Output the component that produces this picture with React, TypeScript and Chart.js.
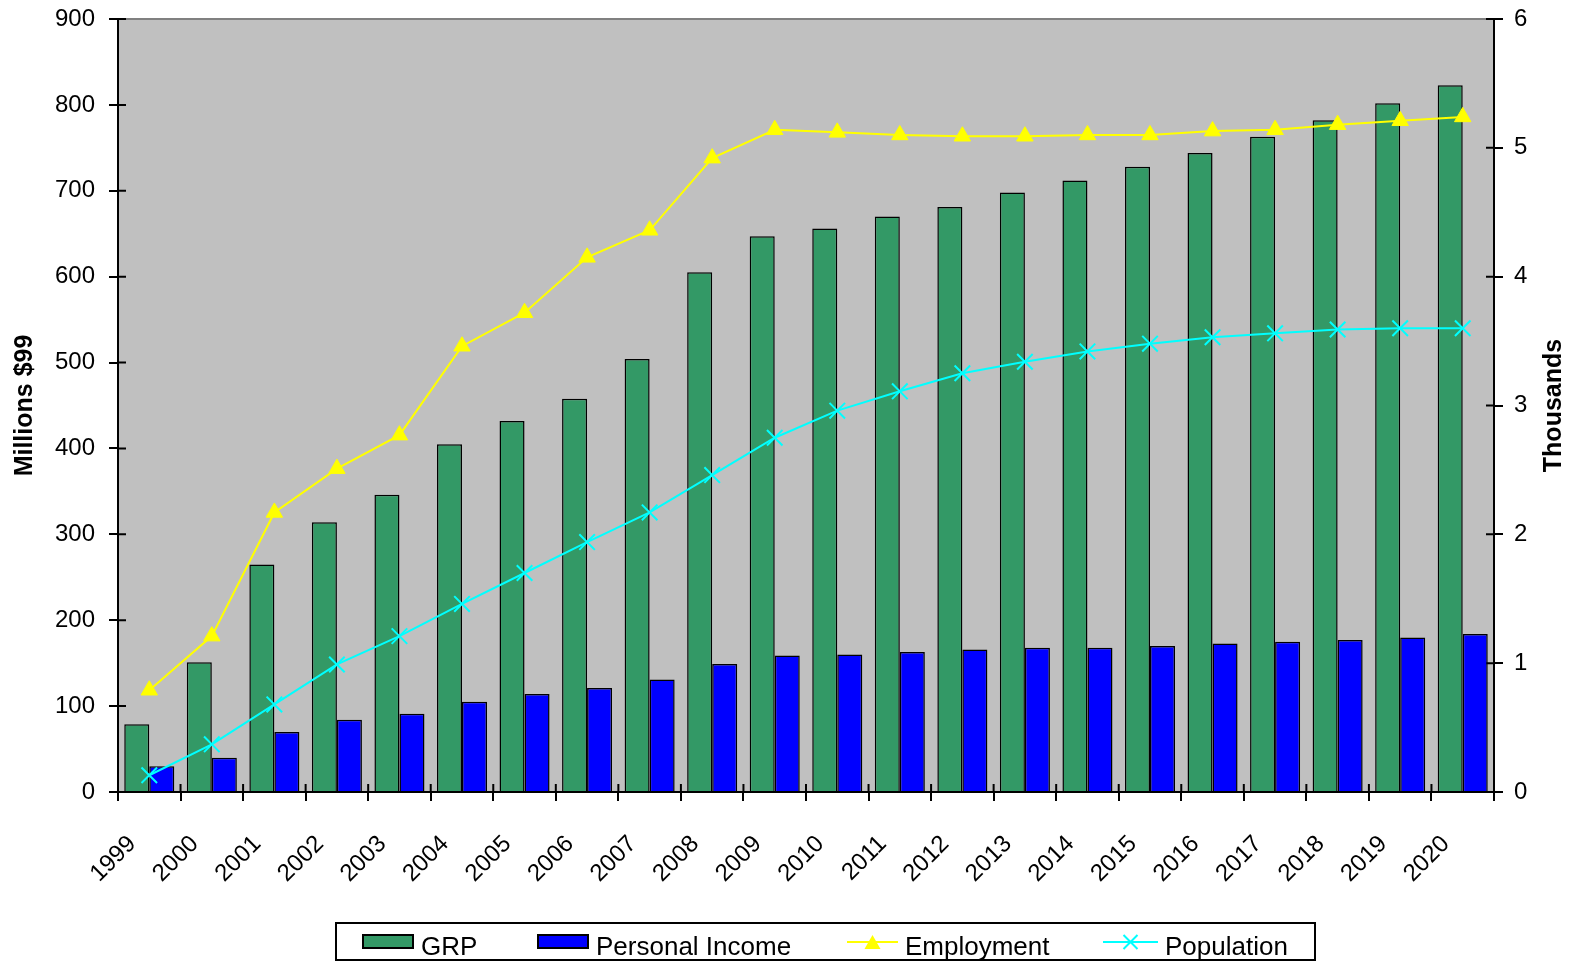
import React, { useEffect, useRef } from "react";
import { Chart, registerables } from "chart.js";

Chart.register(...registerables);

const years = ["1999","2000","2001","2002","2003","2004","2005","2006","2007","2008","2009","2010","2011","2012","2013","2014","2015","2016","2017","2018","2019","2020"];
const grp = [79,151,265,314,346,405,432,458,504,605,647,656,670,681,698,712,728,744,763,782,802,823];
const personalIncome = [30,40,70,84,91,105,114,121,131,149,159,160,163,166,168,168,170,173,175,177,180,184];
const employment = [0.79,1.21,2.17,2.51,2.77,3.46,3.72,4.15,4.36,4.92,5.14,5.12,5.10,5.09,5.09,5.10,5.10,5.13,5.14,5.18,5.21,5.24];
const population = [0.13,0.37,0.68,0.99,1.21,1.46,1.70,1.94,2.17,2.46,2.75,2.96,3.11,3.25,3.34,3.42,3.48,3.53,3.56,3.59,3.60,3.60];

const leftTitle = "Millions $99";
const rightTitle = "Thousands";

const FONT = "'Liberation Sans', Arial, sans-serif";
const GREEN = "#339966";
const BLUE = "#0000FF";
const YELLOW = "#FFFF00";
const CYAN = "#00FFFF";

const decorPlugin = {
  id: "decor",
  beforeDraw(chart: any) {
    const { ctx, chartArea: a } = chart;
    ctx.save();
    ctx.fillStyle = "#C0C0C0";
    ctx.fillRect(a.left, a.top, a.right - a.left, a.bottom - a.top);
    ctx.strokeStyle = "#808080";
    ctx.lineWidth = 2;
    ctx.beginPath();
    ctx.moveTo(a.left, a.top);
    ctx.lineTo(a.right, a.top);
    ctx.stroke();
    ctx.restore();
  },
  beforeDatasetsDraw(chart: any) {
    const { ctx, chartArea: a, scales } = chart;
    ctx.save();
    ctx.strokeStyle = "#000";
    ctx.lineWidth = 2;
    ctx.beginPath();
    const x = scales.x;
    const n = x.ticks.length;
    for (let i = 0; i <= n; i++) {
      const px = x.getPixelForValue(i - 0.5);
      ctx.moveTo(px, a.bottom);
      ctx.lineTo(px, a.bottom - 8);
    }
    scales.y.ticks.forEach((t: any) => {
      const py = scales.y.getPixelForValue(t.value);
      ctx.moveTo(a.left, py);
      ctx.lineTo(a.left + 8, py);
    });
    scales.y1.ticks.forEach((t: any) => {
      const py = scales.y1.getPixelForValue(t.value);
      ctx.moveTo(a.right, py);
      ctx.lineTo(a.right - 8, py);
    });
    ctx.stroke();
    ctx.restore();
  },
  afterDraw(chart: any) {
    const { ctx, chartArea: a } = chart;
    ctx.save();
    ctx.font = `bold 25px ${FONT}`;
    ctx.fillStyle = "#000";
    ctx.textAlign = "center";
    ctx.textBaseline = "middle";
    ctx.translate(1554, (a.top + a.bottom) / 2);
    ctx.rotate(-Math.PI / 2);
    ctx.fillText(rightTitle, 0, 0);
    ctx.restore();

    // legend
    ctx.save();
    ctx.strokeStyle = "#000";
    ctx.lineWidth = 2;
    ctx.strokeRect(336, 923, 979, 37);
    ctx.font = `26px ${FONT}`;
    ctx.fillStyle = "#000";
    ctx.textAlign = "left";
    ctx.textBaseline = "alphabetic";
    const ds = chart.data.datasets;
    const ty = 955;
    const boxes = [
      { x: 363, textX: 421, ds: ds[0] },
      { x: 538, textX: 596, ds: ds[1] },
    ];
    boxes.forEach((b) => {
      ctx.fillStyle = b.ds.backgroundColor;
      ctx.fillRect(b.x, 935, 50, 13);
      ctx.lineWidth = 2;
      ctx.strokeStyle = "#000";
      ctx.strokeRect(b.x, 935, 50, 13);
      ctx.fillStyle = "#000";
      ctx.fillText(b.ds.label, b.textX, ty);
    });
    const lines = [
      { x: 847, textX: 905, ds: ds[2] },
      { x: 1103, textX: 1165, ds: ds[3] },
    ];
    lines.forEach((l, i) => {
      const c = l.ds.borderColor;
      const w = i === 0 ? 51 : 55;
      ctx.strokeStyle = c;
      ctx.lineWidth = 2;
      ctx.beginPath();
      ctx.moveTo(l.x, 942);
      ctx.lineTo(l.x + w, 942);
      ctx.stroke();
      const cx = l.x + w / 2;
      if (i === 0) {
        ctx.fillStyle = c;
        ctx.beginPath();
        ctx.moveTo(cx, 935);
        ctx.lineTo(cx + 8, 949);
        ctx.lineTo(cx - 8, 949);
        ctx.closePath();
        ctx.fill();
      } else {
        ctx.beginPath();
        ctx.moveTo(cx - 7, 935);
        ctx.lineTo(cx + 7, 949);
        ctx.moveTo(cx + 7, 935);
        ctx.lineTo(cx - 7, 949);
        ctx.stroke();
      }
      ctx.fillStyle = "#000";
      ctx.fillText(l.ds.label, l.textX, ty);
    });
    ctx.restore();
  },
};

export default function App() {
  const ref = useRef<HTMLCanvasElement>(null);
  useEffect(() => {
    if (!ref.current) return;
    const tickFont = { family: FONT, size: 24 };
    const chart = new Chart(ref.current, {
      type: "bar",
      data: {
        labels: years,
        datasets: [
          { type: "bar", label: "GRP", data: grp, backgroundColor: GREEN, borderColor: "#000", borderWidth: 1.5, yAxisID: "y", order: 2, categoryPercentage: 0.8, barPercentage: 1.0 },
          { type: "bar", label: "Personal Income", data: personalIncome, backgroundColor: BLUE, borderColor: "#000", borderWidth: 1.5, yAxisID: "y", order: 2, categoryPercentage: 0.8, barPercentage: 1.0 },
          { type: "line", label: "Employment", data: employment, borderColor: YELLOW, backgroundColor: YELLOW, borderWidth: 2, pointStyle: "triangle", pointRadius: 9.5, pointBorderWidth: 1, pointBackgroundColor: YELLOW, pointBorderColor: YELLOW, yAxisID: "y1", order: 0, tension: 0 },
          { type: "line", label: "Population", data: population, borderColor: CYAN, backgroundColor: CYAN, borderWidth: 2, pointStyle: "crossRot", pointRadius: 11, pointBorderWidth: 2, pointBorderColor: CYAN, yAxisID: "y1", order: 0, tension: 0 },
        ] as any,
      },
      options: {
        animation: false,
        responsive: true,
        maintainAspectRatio: false,
        layout: { padding: { top: 19, left: 0, right: 0, bottom: 0 } },
        plugins: { legend: { display: false }, tooltip: { enabled: false } },
        scales: {
          x: {
            offset: true,
            grid: { display: true, drawOnChartArea: false, drawTicks: true, tickLength: 9, color: "#000", lineWidth: 2, offset: true },
            border: { display: true, color: "#000", width: 2 },
            ticks: { color: "#000", font: tickFont, minRotation: 45, maxRotation: 45, autoSkip: false, padding: 29, labelOffset: -17 },
            afterFit: (s: any) => { s.height = 170; s.paddingLeft = 0; s.paddingRight = 0; },
          },
          y: {
            position: "left",
            min: 0, max: 900,
            ticks: { stepSize: 100, color: "#000", font: tickFont, padding: 14 },
            grid: { drawOnChartArea: false, drawTicks: true, tickLength: 9, color: "#000", lineWidth: 2 },
            border: { display: true, color: "#000", width: 2 },
            title: { display: true, text: leftTitle, color: "#000", font: { family: FONT, size: 25, weight: "bold" }, padding: { top: 10, bottom: 0 } },
            afterFit: (s: any) => { s.width = 118; s.paddingTop = 0; s.paddingBottom = 0; },
          },
          y1: {
            position: "right",
            min: 0, max: 6,
            ticks: { stepSize: 1, color: "#000", font: tickFont, padding: 11 },
            grid: { drawOnChartArea: false, drawTicks: true, tickLength: 9, color: "#000", lineWidth: 2 },
            border: { display: true, color: "#000", width: 2 },
            afterFit: (s: any) => { s.width = 80; s.paddingTop = 0; s.paddingBottom = 0; },
          },
        },
      } as any,
      plugins: [decorPlugin],
    });
    return () => chart.destroy();
  }, []);
  return (
    <div style={{ position: "fixed", left: 0, top: 0, width: 1574, height: 962, background: "#fff" }}>
      <canvas ref={ref} />
    </div>
  );
}
